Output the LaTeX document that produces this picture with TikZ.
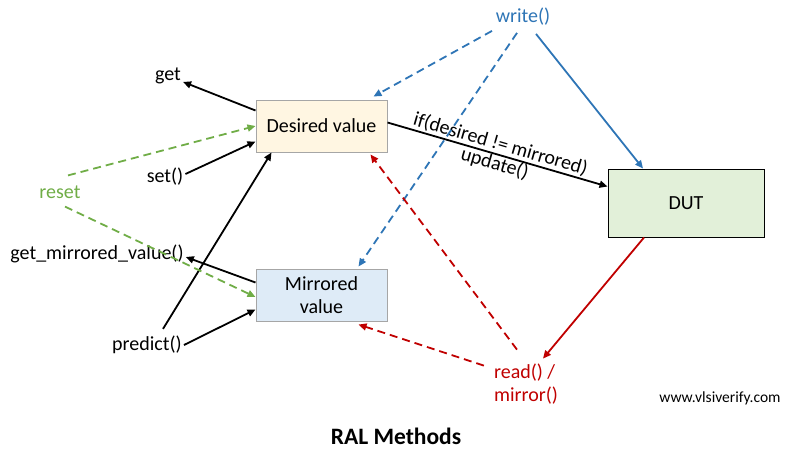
\documentclass[tikz,border=0pt]{standalone}
\usepackage{fontspec}
\setmainfont{Carlito}
\usetikzlibrary{arrows.meta, calc}
\definecolor{wrblue}{RGB}{46,117,182}
\definecolor{rsgreen}{RGB}{112,173,71}
\definecolor{rdred}{RGB}{192,0,0}
\definecolor{desfill}{RGB}{255,246,226}
\definecolor{mirfill}{RGB}{222,235,247}
\definecolor{dutfill}{RGB}{226,240,217}
\definecolor{boxgray}{RGB}{166,166,166}

\begin{document}
\begin{tikzpicture}[x=1pt, y=-1pt, font=\fontsize{20}{23}\selectfont,
  arr/.style={-{Triangle[length=8pt,width=7pt]}, line width=1.8pt},
  dsh/.style={dash pattern=on 8pt off 5pt},
  lbl/.style={inner sep=2pt},
  valbox/.style={draw=boxgray, line width=1pt, minimum width=131pt,
    minimum height=52pt, align=center, inner sep=2pt}]
\useasboundingbox (0,0) rectangle (787,451);
\node[valbox, fill=desfill] (des) at (321.5,126) {Desired value};
\node[valbox, fill=mirfill] (mir) at (321.5,295) {Mirrored\\value};
\node[draw, line width=1pt, fill=dutfill, minimum width=156pt, minimum height=68pt] (dut) at (686,203) {DUT};
\node[lbl] (get) at (168,76) {get};
\node[lbl] (set) at (165,177) {set()};
\node[lbl, text=rsgreen] (reset) at (60,192) {reset};
\node[lbl] (gmv) at (97,254) {get\_mirrored\_value()};
\node[lbl] (pred) at (147,345) {predict()};
\node[lbl, text=wrblue] (write) at (523,17) {write()};
\node[lbl, text=rdred, align=left] (rd) at (526,384) {read() /\\mirror()};
\node[lbl, font=\fontsize{15.5}{18}\selectfont] (www) at (720,398) {www.vlsiverify.com};
\node[lbl, font=\fontsize{23.5}{28}\selectfont\bfseries] (title) at (396,436) {RAL Methods};
% desired value
\draw[arr] ([yshift=-11pt]des.north west) -- (get);
\draw[arr] ([yshift=3pt]set.east) -- ([yshift=11pt]des.south west);
\draw[arr] ([xshift=16pt,yshift=5pt]pred.north) -- ([xshift=16pt]des.south west);
\draw[arr] ([yshift=-23pt]des.north east) -- ([yshift=-18pt]dut.north west)
  node[midway, sloped, above, inner sep=1pt] {if(desired != mirrored)}
  node[midway, sloped, below, inner sep=0pt] {update()};
% mirrored value
\draw[arr] ([yshift=-14pt]mir.north west) -- ([yshift=-3pt]gmv.east);
\draw[arr] (pred.east) -- ([yshift=12pt]mir.south west);
% reset
\draw[arr, dsh, rsgreen] ([xshift=8pt,yshift=8pt]reset.north) -- (des.west);
\draw[arr, dsh, rsgreen] ([xshift=5pt,yshift=-6pt]reset.south) -- ([yshift=-2pt]mir.west);
% write
\draw[arr, dsh, wrblue] ([xshift=-31pt,yshift=-3pt]write.south) -- ([xshift=-14pt,yshift=3pt]des.north east);
\draw[arr, dsh, wrblue] ([xshift=-6pt,yshift=-5pt]write.south) -- ([xshift=-29pt,yshift=2pt]mir.north east);
\draw[arr, wrblue] ([xshift=13pt,yshift=-6pt]write.south) -- ([xshift=-43pt]dut.north);
% read / mirror
\draw[arr, rdred] ([xshift=-42pt]dut.south) -- ([xshift=17pt,yshift=3pt]rd.north);
\draw[arr, dsh, rdred] ([xshift=-9pt,yshift=12pt]rd.north) -- ([xshift=-17pt,yshift=-2pt]des.south east);
\draw[arr, dsh, rdred] ([xshift=-8pt,yshift=-4pt]rd.north west) -- ([xshift=-29pt,yshift=-3pt]mir.south east);
\end{tikzpicture}
\end{document}
